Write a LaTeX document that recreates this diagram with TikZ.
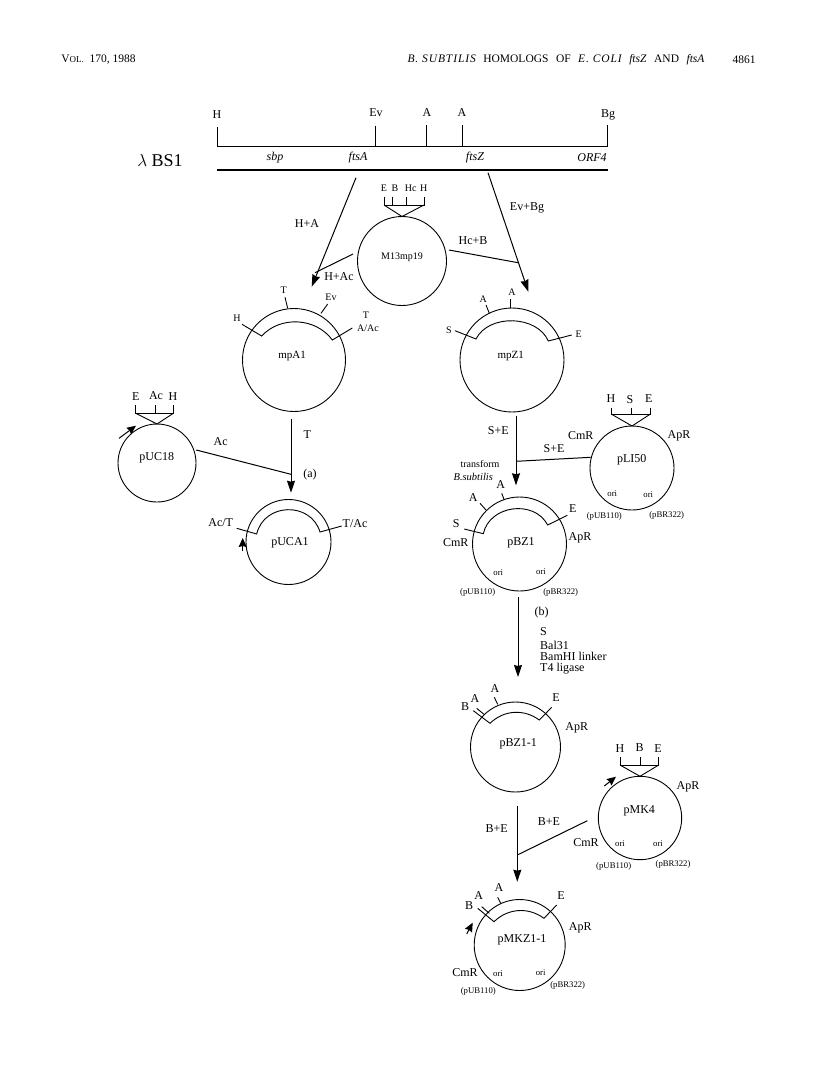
\documentclass[tikz,border=0pt]{standalone}
\usepackage{fontspec}
\setmainfont{Liberation Serif}
\newfontfamily\spacedit[LetterSpace=8]{Liberation Serif}
\usepackage{tikz}
\usetikzlibrary{arrows.meta, positioning}
\tikzset{
    plasmid/.style={draw, circle, line width=0.9pt, inner sep=0pt, outer sep=0pt},
    cut/.style={line width=0.9pt},
    step arrow/.style={line width=1pt, -{Stealth[length=12pt, width=8pt, inset=1pt]}},
    orient/.style={line width=1pt, -{Stealth[length=9pt, width=8pt, inset=1pt]}},
    head/.style={inner sep=0pt, font=\fontsize{11.5}{13}\selectfont},
    big/.style={inner sep=0pt, font=\fontsize{12}{14}\selectfont},
    mid/.style={inner sep=0pt, font=\fontsize{10}{12}\selectfont},
    small/.style={inner sep=0pt, font=\fontsize{8.7}{10}\selectfont},
    gene/.style={inner sep=0pt, font=\fontsize{12}{14}\selectfont\itshape}
}
\begin{document}
\begin{tikzpicture}[x=1pt, y=-1pt]
    \useasboundingbox (0,0) rectangle (816,1080);

    % running head
    \node[head] (headL) at (98.5,60) {V{\fontsize{9}{11}\selectfont OL.}\ \ 170, 1988};
    \node[head] (headM) at (556,60) {{\spacedit\itshape B. SUBTILIS}\hspace{7.5pt}HOMOLOGS\hspace{7.5pt}OF\hspace{7.5pt}{\spacedit\itshape E. COLI}\hspace{7.5pt}\textit{ftsZ}\hspace{7.5pt}AND\hspace{7.5pt}\textit{ftsA}};
    \node[head] (headR) at (744,60) {4861};

    % lambda clone map
    \draw[line width=1pt] (217.7,127) -- (217.7,146.7) -- (607.7,146.7) -- (607.7,125);
    \draw[line width=1pt] (375.7,125.7) -- (375.7,146.7);
    \draw[line width=1pt] (426.7,125) -- (426.7,146.7);
    \draw[line width=1pt] (462.3,125) -- (462.3,146.7);
    \draw[line width=1.1pt] (217.3,170) -- (607.7,170);
    \node[inner sep=0pt, font=\fontsize{18}{20}\selectfont] (lamBS) at (160,161) {$\lambda$ BS1};
    \foreach \n/\x/\y/\t in {mH/217/115/H, mEv/376/113/Ev, mA/427/113/A, mB/462/113/A, mBg/608/115/Bg}
        \node[big] (\n) at (\x,\y) {\t};
    \foreach \n/\x/\t in {gSbp/275/sbp, gFtsA/358/ftsA, gFtsZ/475/ftsZ, gOrf/592/ORF4}
        \node[gene] (\n) at (\x,158) {\t};

    % plasmid circles
    \node[plasmid, minimum size=89pt] (M13) at (402,261) {};
    \node[plasmid, minimum size=103pt] (mpA1) at (294,360) {};
    \node[plasmid, minimum size=104pt] (mpZ1) at (512,360) {};
    \node[plasmid, minimum size=78pt] (pUC18) at (157,463) {};
    \node[plasmid, minimum size=85pt] (pUCA1) at (288.5,542) {};
    \node[plasmid, minimum size=84pt] (pLI50) at (632,468) {};
    \node[plasmid, minimum size=94pt] (pBZ1) at (519.5,544) {};
    \node[plasmid, minimum size=90pt] (pBZ11) at (515.5,747) {};
    \node[plasmid, minimum size=83.4pt] (pMK4) at (640,818) {};
    \node[plasmid, minimum size=91pt] (pMKZ11) at (519.7,945) {};

    % polylinker forks
    \draw[cut] (384,196.7) -- (384,205) -- (424,205) -- (424,196.7);
    \draw[cut] (392.3,196.7) -- (392.3,205);
    \draw[cut] (406.3,196.7) -- (406.3,205);
    \draw[cut] (384,205) -- (M13.north) -- (424,205);
    \draw[cut] (135.7,405) -- (135.7,413.3) -- (173.3,413.3) -- (173.3,405);
    \draw[cut] (155,405) -- (155,413.3);
    \draw[cut] (135.7,413.3) -- (pUC18.north) -- (173.3,413.3);
    \draw[cut] (611.7,407.7) -- (611.7,414.3) -- (650,414.3) -- (650,407.7);
    \draw[cut] (631.7,407.7) -- (631.7,414.3);
    \draw[cut] (611.7,414.3) -- (pLI50.north) -- (650,414.3);
    \draw[cut] (620,757.3) -- (620,765) -- (658.7,765) -- (658.7,757.3);
    \draw[cut] (640.3,757.3) -- (640.3,765);
    \draw[cut] (620,765) -- (pMK4.north) -- (658.7,765);

    % inserts and site ticks
    \draw[cut] (242,324.3) -- (261.7,336) to[bend left=51] (332.3,340) -- (352.3,328);
    \draw[cut] (285,297.3) -- (287.7,308.3);
    \draw[cut] (327.7,304) -- (321,313.3);
    \draw[cut] (455,330.7) -- (476,339) to[bend left=65] (548.3,341) -- (571.7,335);
    \draw[cut] (486,305) -- (489.3,313.3);
    \draw[cut] (510,299.3) -- (510,308.3);
    \draw[cut] (236.7,528.3) -- (256.7,534) to[bend left=75, looseness=1.3] (320,532) -- (341.7,526);
    \draw[cut] (464.3,529) -- (483.3,533.7) to[bend left=70, looseness=1.15] (547.7,525) -- (567.3,515.3);
    \draw[cut] (501.7,493.3) -- (504,499.3);
    \draw[cut] (480,503.3) -- (486,510);
    \draw[cut] (473.3,710.7) -- (490,723.3) to[bend left=40] (539.3,720) -- (551.7,707.3);
    \draw[cut] (476.7,708.3) -- (484,714.3);
    \draw[cut] (494.3,697.3) -- (497.7,704.3);
    \draw[cut] (477.7,908.3) -- (494,921.7) to[bend left=40] (544,918.3) -- (556.7,905);
    \draw[cut] (481.7,906.7) -- (489.3,913.3);
    \draw[cut] (497.7,897.3) -- (500.7,903.3);

    % orientation arrows
    \draw[orient] (119,438.3) -- (136,425.7);
    \draw[orient] (242.7,551) -- (242.7,538);
    \draw[orient] (604.3,786) -- (616,776.7);
    \draw[orient] (466.7,934) -- (472.7,922.7);

    % free ends of the construction steps
    \coordinate (sA) at (356,177.7);
    \coordinate (eA) at (311.7,286.7);
    \coordinate (jA) at (315,272.7);
    \coordinate (mA1) at (353,254);
    \coordinate (sZ) at (488,172.7);
    \coordinate (eZ) at (528.3,291.7);
    \coordinate (jZ) at (518,262.7);
    \coordinate (mZ1) at (449,250);
    \coordinate (sT) at (291,418.7);
    \coordinate (jT) at (291,474.3);
    \coordinate (eT) at (291,492.7);
    \coordinate (oT) at (196.3,450);
    \coordinate (sS) at (516,415.7);
    \coordinate (jS) at (516,461.3);
    \coordinate (eS) at (516,485.3);
    \coordinate (oS) at (590.7,457.3);
    \coordinate (sB) at (518,597);
    \coordinate (eB) at (518,677);
    \coordinate (sM) at (517.3,806);
    \coordinate (jM) at (517.3,855);
    \coordinate (eM) at (517.3,881.7);
    \coordinate (oM) at (587.3,820.7);

    % construction steps
    \draw[step arrow] (sA) -- (eA);
    \draw[step arrow] (sZ) -- (eZ);
    \draw[step arrow] (sT) -- (eT);
    \draw[step arrow] (sS) -- (eS);
    \draw[step arrow] (sB) -- (eB);
    \draw[step arrow] (sM) -- (eM);
    \draw[line width=1pt] (mA1) -- (jA);
    \draw[line width=1pt] (mZ1) -- (jZ);
    \draw[line width=1pt] (oT) -- (jT);
    \draw[line width=1pt] (oS) -- (jS);
    \draw[line width=1pt] (oM) -- (jM);

    % large labels
    \foreach \n/\x/\y/\t in {
        tHA/307/224/H+A, tEvBg/527/208/Ev+Bg, tHcB/473/240.7/Hc+B, tHAc/339/277/H+Ac,
        tpUCE/135.7/396.7/E, tpUCAc/156/396/Ac, tpUCH/173/396.7/H,
        tpUC/156.7/458/pUC18, tAc/220.7/441.7/Ac, tT/307.3/435/T, ta/310/474.7/(a),
        tAcT/220.7/522.3/Ac{/}T, tTAc/355/524/T{/}Ac, tpUCA/290/542.3/pUCA1,
        tLH/611/398.3/H, tLS/630/399.3/S, tLE/648.7/399/E, tLCm/580.7/435.7/CmR, tLAp/679/435.7/ApR,
        tLI/631.7/459.3/pLI50, tSE/498.3/431/S+E, tSEb/554/449/S+E,
        tZa/500.7/485/A, tZb/473.3/497.7/A, tZS/456.3/523.3/S, tZE/572.7/508.3/E,
        tZCm/455.7/542.3/CmR, tZAp/580/537.7/ApR, tZ/521/543.3/pBZ1, tb/541.7/612.3/(b),
        tOa/495/689/A, tOb/475/699/A, tOB/465/706.7/B, tOE/556/697.7/E, tOAp/576.7/728.3/ApR, tO/518.3/744.3/pBZ1-1,
        tKH/620/748.3/H, tKB/639.7/747.7/B, tKE/658/749/E, tKAp/688/786.7/ApR, tK/639.3/810.7/pMK4, tKCm/586/842.7/CmR,
        tBE/496.7/828.3/B+E, tBEb/549/821.7/B+E,
        tMB/469/906/B, tMa/478.7/896/A, tMb/499/887.3/A, tME/561/896/E, tMAp/580.3/927.7/ApR,
        tM/522/940/pMKZ1-1, tMCm/465/972.7/CmR
    }
        \node[big] (\n) at (\x,\y) {\t};
    \node[big, anchor=west] (tLa) at (540,631.7) {S};
    \node[big, anchor=west] (tLb) at (540,645) {Bal31};
    \node[big, anchor=west] (tLc) at (540,656.7) {BamHI linker};
    \node[big, anchor=west] (tLd) at (540,669) {T4 ligase};
    \node[head, font=\fontsize{11}{13}\selectfont] (tmpA) at (292,356) {mpA1};
    \node[head, font=\fontsize{11}{13}\selectfont] (tmpZ) at (510.7,356) {mpZ1};

    % middle labels
    \foreach \n/\x/\y/\t in {
        tM13/402/257/M13mp19, tAH/237/318.3/H, tAT/283.7/290/T, tATb/366/315/T,
        tEf/384/188.7/E, tBf/395/188.7/B, tHcf/410.7/188.7/Hc, tHf/423.7/188.7/H,
        tAEv/331/297.3/Ev, tAAc/368/328/A{/}Ac,
        tZ1a/483.3/299/A, tZ1b/512/292/A, tZ1S/449/330.7/S, tZ1E/578.7/334.3/E,
        tTr/480/463.7/transform
    }
        \node[mid] (\n) at (\x,\y) {\t};
    \node[mid, font=\fontsize{10.5}{12}\selectfont\itshape] (tBs) at (473.3,477) {B.subtilis};

    % small labels
    \foreach \n/\x/\y/\t in {
        oLa/612.3/493.3/ori, oLb/648.3/494.3/ori, pLa/604.3/516.7/(pUB110), pLb/666.7/515/(pBR322),
        oZa/498.3/572.7/ori, oZb/541/572/ori, pZa/477.7/592/(pUB110), pZb/560.7/592/(pBR322),
        oKa/620/843.7/ori, oKb/658/844/ori, pKa/613.7/866.3/(pUB110), pKb/673/864/(pBR322),
        oMa/498/973.7/ori, oMb/540.7/973/ori, pMa/478.3/991.3/(pUB110), pMb/567.7/985.7/(pBR322)
    }
        \node[small] (\n) at (\x,\y) {\t};
\end{tikzpicture}
\end{document}
